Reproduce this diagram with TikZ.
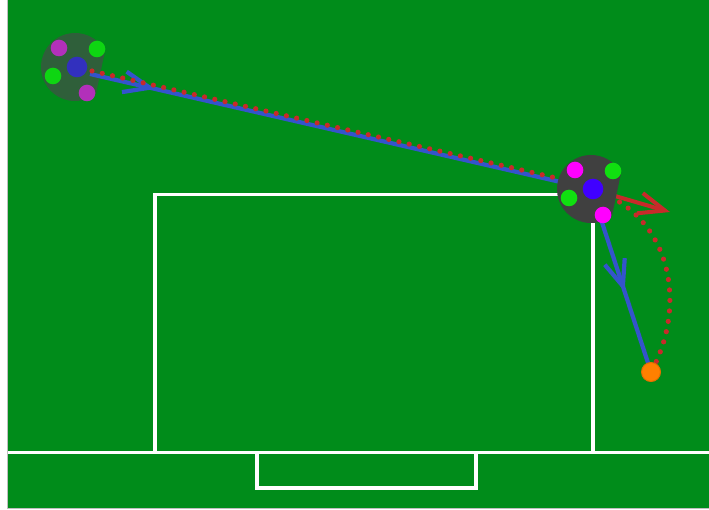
\documentclass[tikz,border=0pt]{standalone}
\usetikzlibrary{arrows.meta,decorations.markings,calc}
\definecolor{field}{RGB}{0,140,26}
\definecolor{rgrey}{RGB}{64,64,64}
\definecolor{rmag}{RGB}{255,0,255}
\definecolor{rgreen}{RGB}{16,224,16}
\definecolor{rblue}{RGB}{64,0,255}
\definecolor{fgrey}{RGB}{47,95,58}
\definecolor{fmag}{RGB}{178,48,186}
\definecolor{fgreen}{RGB}{14,214,18}
\definecolor{fblue}{RGB}{50,48,190}
\definecolor{pathblue}{RGB}{52,84,204}
\definecolor{pathred}{RGB}{200,42,42}
\definecolor{ballorange}{RGB}{255,128,0}
\definecolor{balledge}{RGB}{230,110,0}
\begin{document}
\begin{tikzpicture}[x=1pt,y=-1pt,
  fieldline/.style={white,line width=3.4pt},
  blueline/.style={pathblue,line width=4.2pt},
  reddot/.style={pathred,line width=5.2pt,line cap=round,dash pattern=on 0pt off 10.5pt},
  redarrow/.style={pathred,line width=4pt},
  openhead/.style={-{Straight Barb[length=26pt,width=21pt,line width=4pt]}},
  midhead/.style={postaction={decorate},decoration={markings,mark=at position #1 with {\arrow{Straight Barb[length=26pt,width=21pt,line width=4.2pt]}}}},
  ballnode/.style={circle,fill=ballorange,draw=balledge,line width=1pt,minimum size=19pt,inner sep=0pt}
]
\newcommand\drawrobot[5]{%
  \fill[#2] ($(#1)+(52:34)$) arc[start angle=52,end angle=332,radius=34] -- cycle;
  \fill[#3] ($(#1)+(-16,-19)$) circle (8.3);
  \fill[#3] ($(#1)+(12,26)$) circle (8.3);
  \fill[#4] ($(#1)+(22,-18)$) circle (8.3);
  \fill[#4] ($(#1)+(-22,9)$) circle (8.3);
  \fill[#5] ($(#1)+(2,0)$) circle (10.3);
}
\useasboundingbox (0,0) rectangle (709,510);
\fill[white] (0,0) rectangle (709,510);
\fill[field] (7,0) rectangle (709,508);
\draw[black!25,line width=1pt] (7.5,0) -- (7.5,508.5) -- (709,508.5);
% field markings
\draw[fieldline] (155,452) -- (155,194.5) -- (593,194.5) -- (593,452);
\draw[fieldline] (8,452.5) -- (709,452.5);
\draw[fieldline] (257,452) -- (257,488) -- (476,488) -- (476,452);
% coordinates
\coordinate (r1) at (75,67);
\coordinate (r2) at (591,189);
\coordinate (r1f) at (90,74);
\coordinate (r1r) at (92,71);
\coordinate (r2r) at (591,186);
\coordinate (ra) at (670,212);
\coordinate (ballc) at (651,372);
% robot 1 (faded)
\drawrobot{r1}{fgrey}{fmag}{fgreen}{fblue}
% paths
\draw[blueline,midhead=0.13] (r1f) -- (r2);
\draw[reddot] (r1r) -- (r2r);
\draw[redarrow,openhead] (r2) -- (ra);
\draw[reddot] (r2) .. controls (672,214) and (688,305) .. (ballc);
\draw[blueline,midhead=0.56] (r2) -- (ballc);
% robot 2
\drawrobot{r2}{rgrey}{rmag}{rgreen}{rblue}
% ball
\node[ballnode] (ball) at (ballc) {};
\end{tikzpicture}
\end{document}
